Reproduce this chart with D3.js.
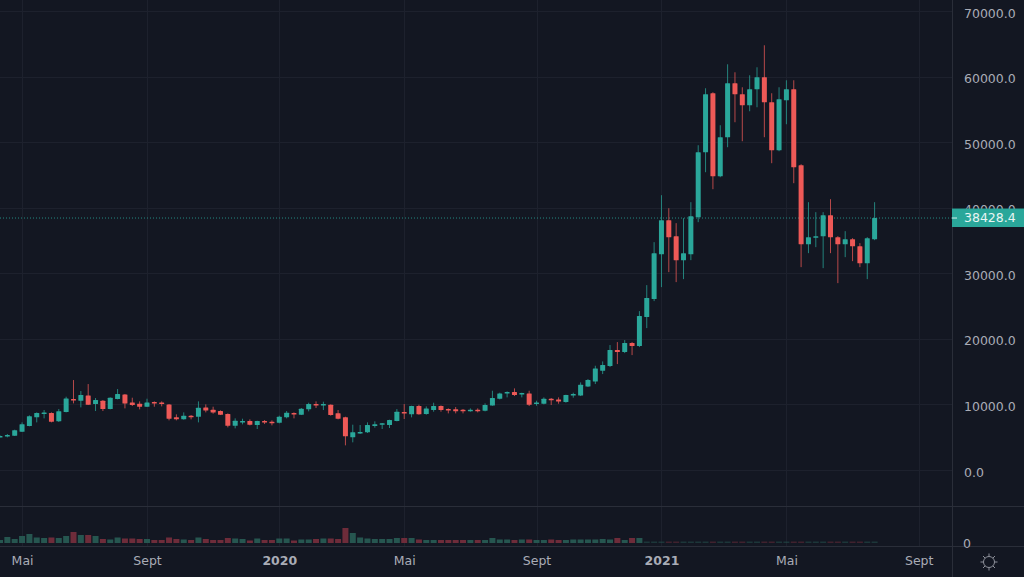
<!DOCTYPE html>
<html>
<head>
<meta charset="utf-8">
<script src="https://cdn.jsdelivr.net/npm/d3@7"></script>
<style>
  html, body { margin: 0; padding: 0; background: #131722; overflow: hidden; }
  svg { display: block; }
  text { font-family: "DejaVu Sans", sans-serif; }
</style>
</head>
<body>
<div id="chart"></div>
<script>
// weekly candles
const firstWeek = "2019-04-08";
const opens = [5029,5182,5232,5842,6706,8026,8636,8687,7417,8839,10820,10566,11379,10058,10566,9297,10820,11532,10312,10109,9652,10363,10312,10008,8026,7722,8280,8128,9550,9195,8992,8534,6756,7264,7468,6858,7468,7366,7214,8026,8687,8433,9246,10058,9957,9957,8636,8026,4978,5639,5740,6706,6960,6858,7468,8839,8484,9754,8534,9144,9754,9297,9246,9195,8992,9195,9042,9855,10871,11735,11887,11633,11684,10160,10109,10871,10770,10363,11379,11379,12751,13513,15138,15849,18288,17983,19355,18897,23317,26060,32918,38100,35661,32004,32918,38557,48463,57455,44805,50749,58979,57302,55626,58064,59893,56083,48768,56388,58064,46482,34442,35509,35661,38862,35509,34442,35204,34137,31547,35204];
const highs = [5285,5486,6147,7264,8331,8788,9144,8788,9297,11176,13716,12040,13106,10973,10668,11074,12344,11582,11024,10465,10871,10465,10465,10058,8484,8788,8382,10465,10008,9652,9093,8636,7874,7823,7722,7518,7620,7569,8280,8992,8788,9449,10261,10465,10414,10008,9144,8128,6909,6858,7264,7417,7163,7671,9297,10058,9804,9957,9703,10261,9855,9398,9601,9297,9398,9398,10160,12090,11786,11989,12446,11786,12090,10566,11074,10973,11074,11481,11786,13360,13868,15900,16561,19050,19507,19812,19507,24231,28194,34747,41910,39929,37643,38405,40843,49530,58217,57607,52578,61874,60655,58369,60198,61417,64770,57455,58369,59436,59436,46634,40843,39319,39319,41300,35661,36423,35357,34595,35509,40843];
const lows = [4978,4978,5182,5791,6655,7264,7874,7264,7315,8788,10160,9550,9906,8992,8992,9246,10770,9398,9754,9246,9601,9652,9703,7569,7569,7671,7722,7264,8788,8585,8382,6502,6350,6960,6807,6248,7010,6807,7112,7874,7874,8382,8941,9449,9144,8280,7722,3759,4216,5486,5639,6452,6248,6401,7417,7772,8026,8433,8433,8890,8890,8636,8636,8636,8890,8788,8941,9804,10770,11074,11277,11074,9754,9804,10008,9906,10109,10261,11024,11277,12649,13106,14630,15697,16154,17831,17526,18745,21641,25755,27889,30175,28651,29108,32004,37795,45415,42824,44653,49225,53035,50139,54711,55321,50749,46787,48615,52730,43739,30937,33071,33985,30785,33071,28499,32461,31851,30937,29108,35052];
const closes = [5182,5334,6045,6960,8179,8687,8788,7366,8941,10922,10617,11430,9957,10668,9297,11024,11582,10160,9906,9652,10312,10261,10109,7823,7722,8280,8179,9500,9093,8788,8433,6756,7518,7468,6909,7468,7264,7264,8128,8738,8484,9347,10058,9855,10058,8382,7823,5131,5740,5791,6858,6960,7112,7620,8890,8636,9754,8484,9398,9754,9144,9144,8941,8992,9195,9042,9906,10973,11684,11887,11430,11735,9957,10312,10871,10668,10465,11430,11582,13005,13716,15494,16002,18288,17983,19355,18897,23469,26213,33071,38100,35509,32004,33071,38709,48463,57302,44805,50749,58979,57302,55626,58064,59893,56083,48768,56540,58064,46177,34442,35509,35661,38862,35509,34442,35204,34137,31547,35357,38428.4];
// volume has no scale in the picture besides 0, so these are relative units
const volumes = [3,6,4,7,9,5.5,5,5.5,5,7,11,8,8,7,4,3.5,5.5,4.5,4.5,4,4,3,3,5.5,4,3.5,3,5.5,4,3,3,5,4.5,4,2.5,4.5,3,3,4.5,4.5,2.5,3.5,3.5,4,4.5,4.5,4,15,10,5.5,4.5,4,4,4,5,5,5,3.5,3,3,3,3,3,3,3,3,3,5,3.5,3.5,3,3.5,3.5,3,3,3.5,3,3,3.5,3.5,3.5,3.5,4,3.5,5,3,5,5,1.5,1.5,1.5,1.5,1.5,1.5,1.5,1.5,1.5,1.5,1.5,1.5,1.5,1.5,1.5,1.5,1.5,1.5,1.5,1.5,1.5,1.5,1.5,1.5,1.5,1.5,1.5,1.5,1.5,1.5,1.5,1.5];
const priceTicks = [0,10000,20000,30000,40000,50000,60000,70000];
const timeTicks = ["2019-04-29","2019-08-26","2019-12-30","2020-04-27","2020-08-31","2020-12-28","2021-04-26","2021-08-30"];
const timeLabels = ["Mai","Sept","2020","Mai","Sept","2021","Mai","Sept"];
const boldLabels = ["2020","2021"];
const lastPrice = 38428.4;

const width = 1024, height = 577, axisX = 952, paneTop = 506, paneBottom = 546;
const up = "#2aa79a", down = "#ee5957", gridColor = "#1d212d", axisColor = "#2a2e39", textColor = "#a9acb6";

const weeks = d3.utcMonday.range(new Date(firstWeek), d3.utcWeek.offset(new Date(firstWeek), opens.length));
const candles = weeks.map((w, i) => ({date: w, o: opens[i], h: highs[i], l: lows[i], c: closes[i], v: volumes[i]}));
const isUp = d => d.c >= d.o;

const x = d3.scaleUtc().domain([weeks[0], weeks[weeks.length - 1]]).range([0, 874.6]);
const y = d3.scaleLinear().domain([0, 70000]).range([470, 11]);
const yVol = d3.scaleLinear().domain([0, 15]).range([543, 528]);
const bodyWidth = 5;

const svg = d3.select("#chart").append("svg").attr("width", width).attr("height", height);
svg.append("rect").attr("width", width).attr("height", height).attr("fill", "#131722");

const tickDates = timeTicks.map(d => new Date(d));

// draw the grid
svg.append("g").selectAll("line").data(priceTicks).enter().append("line")
    .attr("x1", 0).attr("x2", axisX)
    .attr("y1", d => Math.round(y(d)) + 0.5).attr("y2", d => Math.round(y(d)) + 0.5)
    .attr("stroke", gridColor);
svg.append("g").selectAll("line").data(tickDates).enter().append("line")
    .attr("x1", d => Math.round(x(d)) + 0.5).attr("x2", d => Math.round(x(d)) + 0.5)
    .attr("y1", 0).attr("y2", paneBottom)
    .attr("stroke", gridColor);

// pane separators and axis border
svg.append("line").attr("x1", 0).attr("x2", width).attr("y1", paneTop + 0.5).attr("y2", paneTop + 0.5).attr("stroke", axisColor);
svg.append("line").attr("x1", 0).attr("x2", width).attr("y1", paneBottom + 0.5).attr("y2", paneBottom + 0.5).attr("stroke", axisColor);
svg.append("line").attr("x1", axisX + 0.5).attr("x2", axisX + 0.5).attr("y1", 0).attr("y2", height).attr("stroke", axisColor);

// volume bars
svg.append("g").selectAll("rect").data(candles).enter().append("rect")
    .attr("x", d => x(d.date) - 3)
    .attr("width", 6)
    .attr("y", d => yVol(d.v))
    .attr("height", d => yVol(0) - yVol(d.v))
    .attr("fill", d => isUp(d) ? "#265650" : "#6e2c3a")
    .attr("opacity", d => d.v < 2 ? 0.5 : 1);

// last price line
svg.append("line")
    .attr("x1", 0).attr("x2", axisX)
    .attr("y1", y(lastPrice)).attr("y2", y(lastPrice))
    .attr("stroke", up).attr("stroke-dasharray", "1,2").attr("opacity", 0.8);

// candles
const candle = svg.append("g").selectAll("g").data(candles).enter().append("g");
candle.append("line")
    .attr("x1", d => x(d.date)).attr("x2", d => x(d.date))
    .attr("y1", d => y(d.h)).attr("y2", d => y(d.l))
    .attr("stroke", d => isUp(d) ? up : down)
    .attr("stroke-opacity", 0.75);
candle.append("rect")
    .attr("x", d => x(d.date) - bodyWidth / 2)
    .attr("width", bodyWidth)
    .attr("y", d => y(Math.max(d.o, d.c)))
    .attr("height", d => Math.max(1.5, Math.abs(y(d.o) - y(d.c))))
    .attr("rx", 0.5)
    .attr("fill", d => isUp(d) ? up : down);

// price axis, labels sit 2px under their grid lines in the reference
const priceAxis = svg.append("g")
    .attr("transform", "translate(" + axisX + ",2)")
    .call(d3.axisRight(y).tickValues(priceTicks).tickFormat(d3.format(".1f")).tickSize(0).tickPadding(12));
priceAxis.select(".domain").remove();
priceAxis.selectAll("text").attr("fill", textColor).attr("font-size", 12.5).attr("font-family", "DejaVu Sans");

// volume axis
const volAxis = svg.append("g")
    .attr("transform", "translate(" + axisX + ",0)")
    .call(d3.axisRight(yVol).tickValues([0]).tickSize(0).tickPadding(11));
volAxis.select(".domain").remove();
volAxis.selectAll("text").attr("fill", textColor).attr("font-size", 12.5).attr("font-family", "DejaVu Sans");

// time axis
const timeAxis = svg.append("g")
    .attr("transform", "translate(0," + 556 + ")")
    .call(d3.axisBottom(x).tickValues(tickDates).tickFormat((d, i) => timeLabels[i]).tickSize(0).tickPadding(0));
timeAxis.select(".domain").remove();
timeAxis.selectAll("text")
    .attr("fill", textColor)
    .attr("font-size", 12.5)
    .attr("font-family", "DejaVu Sans")
    .attr("font-weight", (d, i) => boldLabels.includes(timeLabels[i]) ? "bold" : "normal");

// last price tag
const tag = svg.append("g").attr("transform", "translate(" + axisX + "," + y(lastPrice) + ")");
tag.append("rect").attr("x", 0).attr("y", -9.5).attr("width", width - axisX).attr("height", 18.5).attr("fill", up);
tag.append("line").attr("x1", 0).attr("x2", 5).attr("stroke", "#d8f0ed");
tag.append("text").attr("x", 12).attr("dy", "0.32em").attr("fill", "#e8f5f3").attr("font-size", 12.5).text(d3.format(".1f")(lastPrice));

// settings icon
const gear = svg.append("g").attr("transform", "translate(989,562)").attr("fill", "none").attr("stroke", "#8d909a");
gear.append("circle").attr("r", 5.5);
gear.selectAll("line").data(d3.range(8)).enter().append("line")
    .attr("x1", d => 5.5 * Math.cos(d * Math.PI / 4)).attr("y1", d => 5.5 * Math.sin(d * Math.PI / 4))
    .attr("x2", d => 8.5 * Math.cos(d * Math.PI / 4)).attr("y2", d => 8.5 * Math.sin(d * Math.PI / 4));
</script>
</body>
</html>
